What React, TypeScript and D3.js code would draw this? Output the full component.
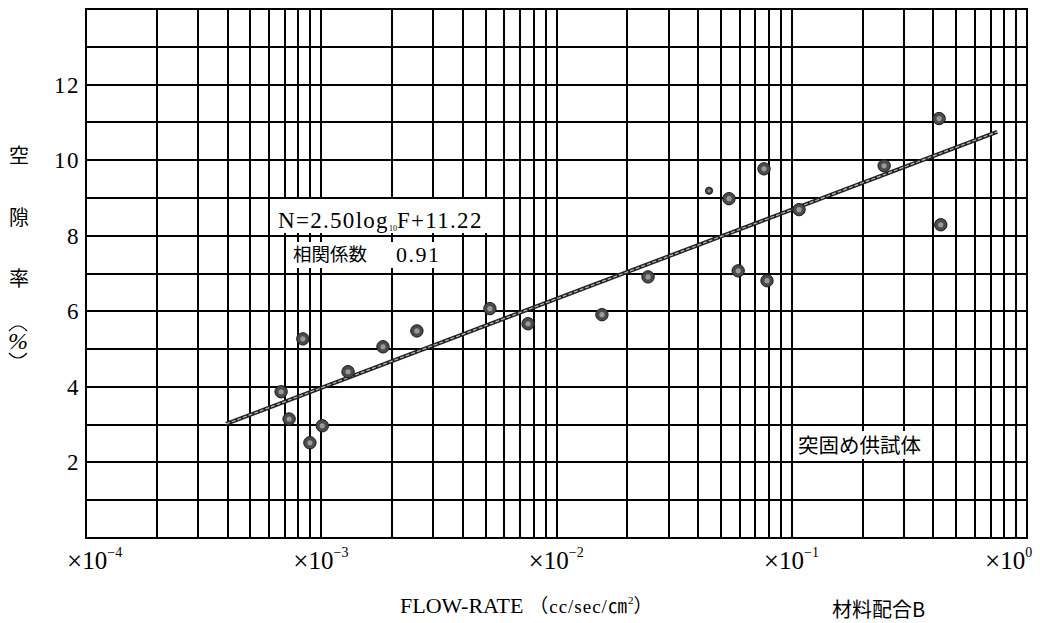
import React, { useEffect, useRef } from 'react';
import * as d3 from 'd3';

// flow rate (cc/sec/cm2) and porosity (%) of each specimen
const flowRate = [6.75e-4, 7.3e-4, 8.35e-4, 8.95e-4, 1.01e-3, 1.3e-3, 1.83e-3, 2.55e-3, 5.21e-3, 7.57e-3, 1.56e-2, 2.45e-2, 4.45e-2, 5.41e-2, 5.92e-2, 7.62e-2, 7.85e-2, 0.1074, 0.247, 0.423, 0.43];
const porosity = [3.87, 3.15, 5.27, 2.52, 2.97, 4.4, 5.06, 5.48, 6.07, 5.67, 5.91, 6.91, 9.19, 8.98, 7.07, 9.77, 6.81, 8.69, 9.85, 11.1, 8.29];
const smallPoints = [12];

// regression line as drawn
const fitFlow = [3.94e-4, 0.747];
const fitPorosity = [3.02, 10.75];

const yTicks = [2, 4, 6, 8, 10, 12];
const decadeExponents = [-4, -3, -2, -1, 0];
const decadeLabels = ['−4', '−3', '−2', '−1', '0'];

const serif = '"Liberation Serif", "DejaVu Serif", serif';
const cjk = '"Noto Sans CJK JP", sans-serif';

const App = () => {
  const svgRef = useRef<SVGSVGElement>(null);

  useEffect(() => {
    document.body.style.margin = '0';
    const svg = d3.select(svgRef.current);
    svg.selectAll('*').remove();

    const x = d3.scaleLog().domain([1e-4, 1]).range([86, 1027]);
    const y = d3.scaleLinear().domain([0, 14]).range([538, 9]);

    svg.append('rect').attr('width', 1040).attr('height', 623).attr('fill', '#fff');

    // grid
    const vLines: number[] = [];
    decadeExponents.slice(0, -1).forEach(e => {
      for (let k = 1; k < 10; k++) vLines.push(k * Math.pow(10, e));
    });
    vLines.push(1);

    const grid = svg.append('g').attr('stroke', '#000').attr('stroke-width', 2);
    grid.selectAll('line.v')
      .data(vLines)
      .enter()
      .append('line')
      .attr('x1', d => Math.round(x(d)))
      .attr('x2', d => Math.round(x(d)))
      .attr('y1', y(14))
      .attr('y2', y(0));

    grid.selectAll('line.h')
      .data(d3.range(0, 15))
      .enter()
      .append('line')
      .attr('x1', x(1e-4) - 1)
      .attr('x2', x(1) + 1)
      .attr('y1', d => Math.round(y(d)))
      .attr('y2', d => Math.round(y(d)))
      .attr('stroke-width', 2.2);

    // y tick labels
    svg.append('g')
      .selectAll('text')
      .data(yTicks)
      .enter()
      .append('text')
      .attr('x', 80)
      .attr('y', d => y(d) + 8)
      .attr('text-anchor', 'end')
      .attr('font-family', serif)
      .attr('font-size', 23)
      .attr('letter-spacing', 1.5)
      .text(d => d);

    // x tick labels
    const xl = svg.append('g')
      .selectAll('text')
      .data(decadeExponents)
      .enter()
      .append('text')
      .attr('x', (d, i) => x(Math.pow(10, d)) + (i === 0 ? -19 : i === decadeExponents.length - 1 ? -42 : -28))
      .attr('y', 569)
      .attr('font-family', serif)
      .attr('font-size', 25);
    xl.append('tspan').attr('font-size', 27).attr('dy', 1).text('×');
    xl.append('tspan').attr('dy', -1).text('10');
    xl.append('tspan')
      .attr('dy', -12)
      .attr('font-size', 14)
      .text((d, i) => decadeLabels[i]);

    // regression line
    const line = d3.line<number>()
      .x((d, i) => x(fitFlow[i]))
      .y(d => y(d));
    svg.append('path')
      .attr('d', line(fitPorosity))
      .attr('fill', 'none')
      .attr('stroke', '#222')
      .attr('stroke-width', 4);
    svg.append('path')
      .attr('d', line(fitPorosity))
      .attr('fill', 'none')
      .attr('stroke', '#bbb')
      .attr('stroke-width', 1.2)
      .attr('stroke-dasharray', '4 2');

    // data points
    const pts = svg.append('g')
      .selectAll('g')
      .data(flowRate)
      .enter()
      .append('g')
      .attr('transform', (d, i) => `translate(${x(d)},${y(porosity[i])})`);
    pts.append('circle')
      .attr('r', (d, i) => (smallPoints.includes(i) ? 3.6 : 6.2))
      .attr('fill', '#4a4a4a')
      .attr('stroke', '#1a1a1a')
      .attr('stroke-width', 1);
    pts.append('circle')
      .attr('r', (d, i) => (smallPoints.includes(i) ? 1.2 : 2.6))
      .attr('fill', '#999');

    // annotation boxes
    const boxes = [
      [276, 199, 212, 34],
      [287, 242, 153, 26],
      [796, 431, 128, 28],
    ];
    svg.append('g')
      .selectAll('rect')
      .data(boxes)
      .enter()
      .append('rect')
      .attr('x', d => d[0])
      .attr('y', d => d[1])
      .attr('width', d => d[2])
      .attr('height', d => d[3])
      .attr('fill', '#fff');

    const eq = svg.append('text')
      .attr('x', 278)
      .attr('y', 228)
      .attr('font-family', serif)
      .attr('font-size', 23)
      .attr('letter-spacing', 1.3);
    eq.append('tspan').text('N=2.50log');
    eq.append('tspan').attr('font-size', 8).attr('dy', 3).attr('letter-spacing', 0).text('10');
    eq.append('tspan').attr('dy', -3).text('F+11.22');

    svg.append('text')
      .attr('x', 293)
      .attr('y', 261)
      .attr('font-family', cjk)
      .attr('font-size', 18.5)
      .text('相関係数');
    svg.append('text')
      .attr('x', 396)
      .attr('y', 262)
      .attr('font-family', serif)
      .attr('font-size', 22)
      .attr('letter-spacing', 1.5)
      .text('0.91');

    svg.append('text')
      .attr('x', 798)
      .attr('y', 453)
      .attr('font-family', cjk)
      .attr('font-size', 20.5)
      .text('突固め供試体');

    // y-axis title (vertical)
    const yTitle = svg.append('g')
      .attr('font-family', cjk)
      .attr('font-size', 20)
      .attr('text-anchor', 'middle');
    ['空', '隙', '率'].forEach((c, i) => {
      yTitle.append('text')
        .attr('x', 19)
        .attr('y', [163, 225, 286][i])
        .text(c);
    });
    svg.append('text')
      .attr('x', 18)
      .attr('y', 349)
      .attr('text-anchor', 'middle')
      .attr('font-family', serif)
      .attr('font-style', 'italic')
      .attr('font-size', 24)
      .text('%');
    const arcs = d3.path();
    arcs.moveTo(9, 331);
    arcs.quadraticCurveTo(18, 321, 27, 331);
    arcs.moveTo(9, 353);
    arcs.quadraticCurveTo(18, 363, 27, 353);
    svg.append('path')
      .attr('d', arcs.toString())
      .attr('fill', 'none')
      .attr('stroke', '#000')
      .attr('stroke-width', 1.2);

    // x-axis title
    const xt = svg.append('text')
      .attr('x', 400)
      .attr('y', 613)
      .attr('font-family', `${serif}, ${cjk}`)
      .attr('font-size', 22);
    xt.append('tspan').text('FLOW-RATE');
    xt.append('tspan').attr('font-size', 19).attr('letter-spacing', 1).text(' （cc/sec/㎝');
    xt.append('tspan').attr('font-size', 11).attr('dy', -9).text('2');
    xt.append('tspan').attr('font-size', 19).attr('dy', 9).text('）');

    svg.append('text')
      .attr('x', 832)
      .attr('y', 617)
      .attr('font-family', cjk)
      .attr('font-size', 20)
      .text('材料配合B');
  }, []);

  return <svg ref={svgRef} width={1040} height={623} style={{ display: 'block' }}></svg>;
};

export default App;
